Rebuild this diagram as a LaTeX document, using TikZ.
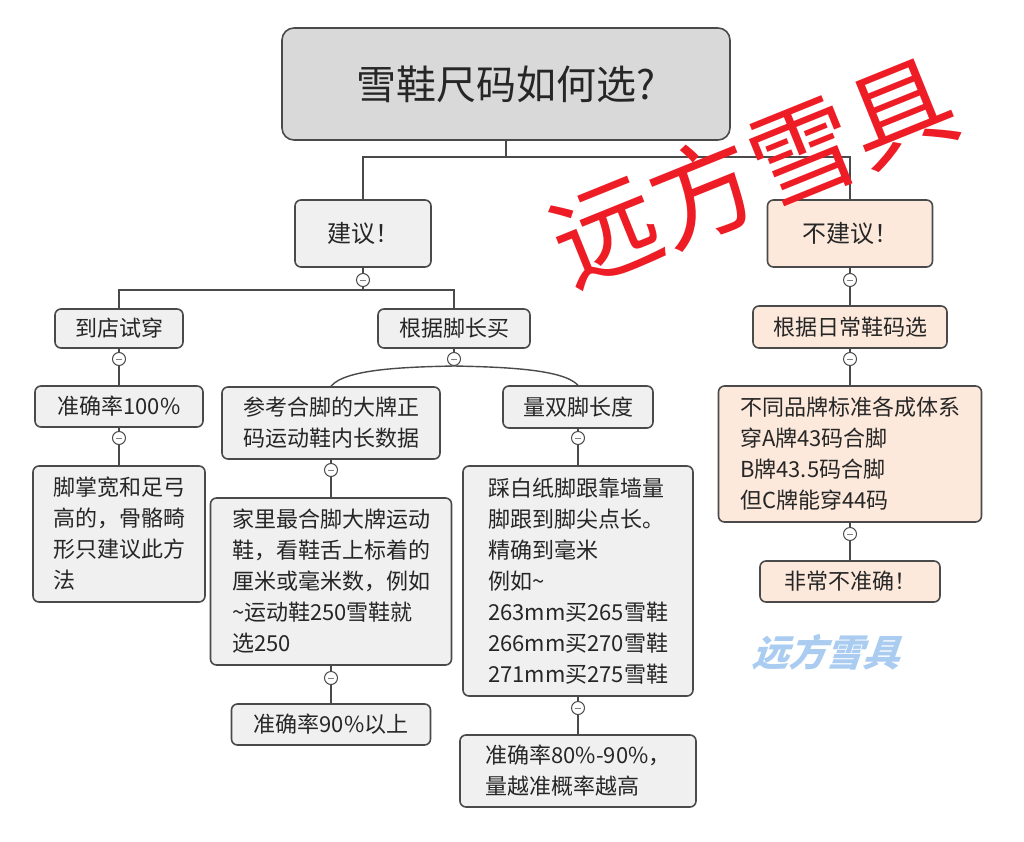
\documentclass[tikz,border=0pt]{standalone}
\usepackage{fontspec}
\setmainfont{Noto Sans CJK SC}
\definecolor{lineC}{HTML}{4A4A4A}
\definecolor{greyF}{HTML}{F0F0F0}
\definecolor{titleF}{HTML}{D9D9D9}
\definecolor{peachF}{HTML}{FCE9DC}
\definecolor{wmRed}{HTML}{EE1C25}
\definecolor{wmBlue}{HTML}{A9CCF0}
\tikzset{
  box/.style={draw=lineC, line width=1.6pt, rounded corners=6pt, fill=greyF, inner sep=0pt,
              font=\fontsize{22}{31}\selectfont, text=black!85},
  pbox/.style={box, fill=peachF},
  mbox/.style={box, align=left},
  conn/.style={draw=lineC, line width=1.4pt},
  coll/.style={circle, draw=lineC, line width=1pt, fill=white, minimum size=13pt, inner sep=0pt,
    path picture={\draw[lineC!70, line width=0.8pt] ([xshift=-3pt]path picture bounding box.center) -- ([xshift=3pt]path picture bounding box.center);}}
}
\begin{document}
\begin{tikzpicture}[x=1pt,y=-1pt]
\fill[white] (0,0) rectangle (1024,842);
\useasboundingbox (0,0) rectangle (1024,842);

% title
\node[box, fill=titleF, rounded corners=12pt, minimum width=448pt, minimum height=112pt,
      font=\fontsize{40}{48}\selectfont] (title) at (506,84) {雪鞋尺码如何选?};

% level 1
\node[box, minimum width=136pt, minimum height=67pt, font=\fontsize{24}{30}\selectfont] (jy) at (363,233.5) {建议！};
\node[pbox, minimum width=165pt, minimum height=67pt, font=\fontsize{24}{30}\selectfont] (bjy) at (850,233.5) {不建议！};

% collapse circles
\node[coll] (c1) at (363,280) {};
\node[coll] (c2) at (850,280) {};
\node[coll] (c3) at (119,359) {};
\node[coll] (c4) at (454,359) {};
\node[coll] (c5) at (850,359) {};
\node[coll] (c6) at (119,438) {};
\node[coll] (c7) at (331,470) {};
\node[coll] (c8) at (578,438) {};
\node[coll] (c9) at (850,534) {};
\node[coll] (c10) at (331,678) {};
\node[coll] (c11) at (578,708) {};

% level 2
\node[box, minimum width=128pt, minimum height=39pt] (dd) at (119,328.5) {到店试穿};
\node[box, minimum width=152pt, minimum height=39pt] (gj) at (454,328.5) {根据脚长买};
\node[pbox, minimum width=194pt, minimum height=42pt] (rc) at (850,327) {根据日常鞋码选};

% left column
\node[box, minimum width=168pt, minimum height=41pt] (a100) at (119,406.5) {准确率100\%};
\node[mbox, minimum width=172pt, minimum height=136pt] (jz) at (119,534) {脚掌宽和足弓\\高的，骨骼畸\\形只建议此方\\法};

% middle column
\node[mbox, minimum width=218pt, minimum height=72pt] (ck) at (331,423) {参考合脚的大牌正\\码运动鞋内长数据};
\node[mbox, minimum width=241pt, minimum height=167pt] (jl) at (331,581.5) {家里最合脚大牌运动\\鞋，看鞋舌上标着的\\厘米或毫米数，例如\\\textasciitilde 运动鞋250雪鞋就\\选250};
\node[box, minimum width=199pt, minimum height=41pt] (a90) at (331,724.5) {准确率90\%以上};

% right-middle column
\node[box, minimum width=150pt, minimum height=42pt] (ls) at (578,407) {量双脚长度};
\node[mbox, minimum width=230pt, minimum height=230pt] (cb) at (578,581) {踩白纸脚跟靠墙量\\脚跟到脚尖点长。\\精确到毫米\\例如\textasciitilde\\263mm买265雪鞋\\266mm买270雪鞋\\271mm买275雪鞋};
\node[mbox, minimum width=236pt, minimum height=72pt] (a80) at (578,771) {准确率80\%-90\%，\\量越准概率越高};

% right column
\node[pbox, align=left, minimum width=263pt, minimum height=136pt] (bt) at (850,454) {不同品牌标准各成体系\\穿A牌43码合脚\\B牌43.5码合脚\\但C牌能穿44码};
\node[pbox, minimum width=180pt, minimum height=41pt] (fc) at (850,581.5) {非常不准确！};

% connectors
\coordinate (j0) at (506,157);
\coordinate (j1) at (363,290);
\draw[conn] (title.south) -- (j0) -| (jy.north);
\draw[conn] (j0) -| (bjy.north);
\draw[conn] (jy.south) -- (c1.north);
\draw[conn] (c1.south) -- (j1);
\draw[conn] (j1) -| (dd.north);
\draw[conn] (j1) -| (gj.north);
\draw[conn] (bjy.south) -- (c2.north);
\draw[conn] (c2.south) -- (rc.north);
\draw[conn] (rc.south) -- (c5.north);
\draw[conn] (c5.south) -- (bt.north);
\draw[conn] (bt.south) -- (c9.north);
\draw[conn] (c9.south) -- (fc.north);
\draw[conn] (dd.south) -- (c3.north);
\draw[conn] (c3.south) -- (a100.north);
\draw[conn] (a100.south) -- (c6.north);
\draw[conn] (c6.south) -- (jz.north);
\draw[conn] (gj.south) -- (c4.north);
\draw[conn] (c4.south) .. controls (405,367) and (345,369) .. (ck.north);
\draw[conn] (c4.south) .. controls (503,367) and (563,369) .. (ls.north);
\draw[conn] (ck.south) -- (c7.north);
\draw[conn] (c7.south) -- (jl.north);
\draw[conn] (jl.south) -- (c10.north);
\draw[conn] (c10.south) -- (a90.north);
\draw[conn] (ls.south) -- (c8.north);
\draw[conn] (c8.south) -- (cb.north);
\draw[conn] (cb.south) -- (c11.north);
\draw[conn] (c11.south) -- (a80.north);

% watermarks
\node[text=wmRed, rotate=22, inner sep=0pt, font=\fontsize{106}{110}\selectfont] (wm1) at (753,171) {远方雪具};
\node[text=wmBlue, xslant=0.35, transform shape, inner sep=0pt, font=\bfseries\fontsize{37}{40}\selectfont] (wm2) at (830,652) {远方雪具};
\end{tikzpicture}
\end{document}
